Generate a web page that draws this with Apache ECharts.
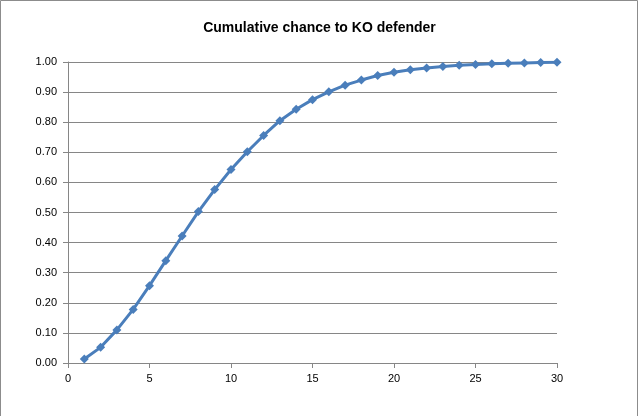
<!DOCTYPE html>
<html>
<head>
<meta charset="utf-8">
<script src="https://cdn.jsdelivr.net/npm/echarts@6/dist/echarts.min.js"></script>
<style>
html,body{margin:0;padding:0;background:#fff;}
#c{width:639px;height:416px;}
</style>
</head>
<body>
<div id="c"></div>
<script>
var titleText = 'Cumulative chance to KO defender';
var rounds = [1,2,3,4,5,6,7,8,9,10,11,12,13,14,15,16,17,18,19,20,21,22,23,24,25,26,27,28,29,30];
var chance = [0.013,0.052,0.110,0.178,0.257,0.340,0.422,0.503,0.576,0.643,0.702,0.756,0.805,0.843,0.875,0.901,0.923,0.940,0.955,0.966,0.974,0.980,0.985,0.989,0.992,0.994,0.996,0.997,0.998,0.999];

var pts = rounds.map(function(r,i){return [r, chance[i]];});
var chart = echarts.init(document.getElementById('c'), null, {renderer:'canvas'});
var lab = {color:'#000', fontFamily:'Liberation Sans, Arial, sans-serif', fontSize:11};
chart.setOption({
  animation:false,
  backgroundColor:'#fff',
  title:{text:titleText,left:'center',top:16,
    textStyle:{fontFamily:'Liberation Sans, Arial, sans-serif',fontSize:14,fontWeight:'bold',color:'#000'}},
  graphic:[{type:'rect',shape:{x:0.5,y:0.5,width:637,height:420},
    style:{fill:'none',stroke:'#8c8c8c',lineWidth:1},silent:true}],
  grid:{left:68,right:82,top:62,bottom:53},
  xAxis:{type:'value',min:0,max:30,interval:5,
    axisLine:{show:true,lineStyle:{color:'#868686',width:1}},
    axisTick:{show:true,length:5,lineStyle:{color:'#868686'}},
    axisLabel:Object.assign({margin:10},lab),
    splitLine:{show:false}},
  yAxis:{type:'value',min:0,max:1,interval:0.1,
    axisLine:{show:true,lineStyle:{color:'#868686',width:1}},
    axisTick:{show:true,length:5,lineStyle:{color:'#868686'}},
    axisLabel:Object.assign({margin:11,formatter:function(v){return v.toFixed(2);}},lab),
    splitLine:{show:true,lineStyle:{color:'#868686',width:1}}},
  series:[{type:'line',data:pts,symbol:'diamond',symbolSize:9,
    lineStyle:{color:'#4A7EBB',width:3},
    itemStyle:{color:'#4A7EBB'}}]
});
</script>
</body>
</html>
